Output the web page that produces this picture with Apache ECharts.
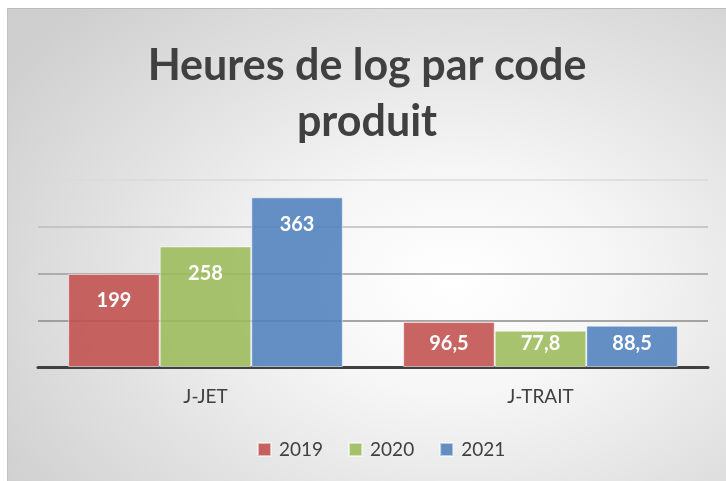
<!DOCTYPE html>
<html>
<head>
<meta charset="utf-8">
<script src="https://cdn.jsdelivr.net/npm/echarts@6/dist/echarts.min.js"></script>
<style>
  html, body { margin: 0; padding: 0; background: #ffffff; }
  #frame {
    position: absolute; left: 7px; top: 8px; width: 719px; height: 473px;
    box-sizing: border-box;
    border-top: 1px solid #bdbdbd; border-left: 1px solid #c4c4c4;
    background: radial-gradient(ellipse 75% 80% at 62% 58%, #ffffff 0%, #f6f6f6 30%, #e2e2e2 65%, #cfcfcf 100%);
  }
  #chart { position: absolute; left: 0; top: 0; width: 718px; height: 472px; }
</style>
</head>
<body>
<div id="frame"><div id="chart"></div></div>
<script>
// Heures de log par code produit, par année
const categories = ['J-JET', 'J-TRAIT'];
const years = ['2019', '2020', '2021'];
const values2019 = [199, 96.5];
const values2020 = [258, 77.8];
const values2021 = [363, 88.5];
const yTicks = [0, 100, 200, 300, 400];

const colors = ['rgba(192,80,77,0.88)', 'rgba(155,187,89,0.88)', 'rgba(79,129,189,0.88)'];
const FONT = 'Lato, "Open Sans", sans-serif';

function frNumber(v) { return String(v).replace('.', ','); }

function makeSeries(name, values, color) {
  return {
    name: name,
    type: 'bar',
    barGap: '0%',
    barCategoryGap: '18%',
    itemStyle: { color: color, borderColor: 'rgba(255,255,255,0.55)', borderWidth: 1 },
    data: values.map((v, i) => ({
      value: v,
      label: i === 0
        ? { position: 'insideTop', distance: 17 }
        : { position: 'insideBottom', distance: 13 }
    })),
    label: {
      show: true,
      color: '#ffffff',
      fontFamily: FONT,
      fontWeight: 'bold',
      fontSize: 20,
      formatter: p => frNumber(p.value)
    }
  };
}

const chart = echarts.init(document.getElementById('chart'));
chart.setOption({
  backgroundColor: 'transparent',
  animation: false,
  color: colors,
  title: {
    text: 'Heures de log par code\nproduit',
    left: 'center',
    top: 24,
    padding: [5, 5, 5, 15],
    textStyle: {
      fontFamily: FONT,
      fontWeight: 'bold',
      fontSize: 43,
      lineHeight: 56,
      color: '#404040'
    }
  },
  legend: {
    top: 426,
    left: 244,
    itemWidth: 13,
    itemHeight: 13,
    itemGap: 25,
    icon: 'rect',
    textStyle: { fontFamily: FONT, fontSize: 19, color: '#404040', padding: [0, 0, 0, 3] },
    data: years
  },
  grid: { left: 30, right: 18, top: 171, bottom: 114 },
  xAxis: {
    type: 'category',
    data: categories,
    axisLine: { lineStyle: { color: '#404040', width: 3 } },
    axisTick: { show: false },
    axisLabel: { fontFamily: FONT, fontSize: 19, color: '#404040', margin: 20 }
  },
  yAxis: {
    type: 'value',
    min: yTicks[0],
    max: yTicks[yTicks.length - 1],
    interval: 100,
    axisLabel: { show: false },
    axisLine: { show: false },
    axisTick: { show: false },
    splitLine: {
      lineStyle: { width: 1.5, color: ['#404040', '#8a8a8a', '#9c9c9c', '#bcbcbc', '#dadada'] }
    }
  },
  series: [
    makeSeries(years[0], values2019, colors[0]),
    makeSeries(years[1], values2020, colors[1]),
    makeSeries(years[2], values2021, colors[2])
  ]
});
</script>
</body>
</html>
